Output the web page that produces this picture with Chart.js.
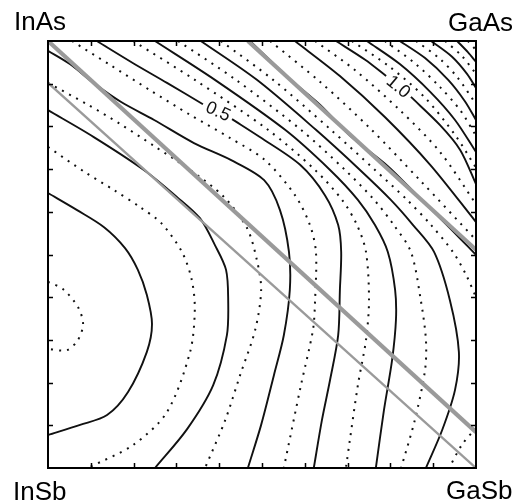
<!DOCTYPE html>
<html>
<head>
<meta charset="utf-8">
<script src="https://cdn.jsdelivr.net/npm/chart.js@4/dist/chart.umd.min.js"></script>
<style>
  html, body { margin: 0; padding: 0; background: #fff; }
  #wrap { width: 522px; height: 504px; position: relative; }
</style>
</head>
<body>
<div id="wrap"><canvas id="c" width="522" height="504"></canvas></div>
<script>
// Composition square: x = Ga fraction (In -> Ga), y = As fraction (Sb -> As)
const cornerNames = ['InAs', 'GaAs', 'InSb', 'GaSb'];
const tickValues = [0.1, 0.2, 0.3, 0.4, 0.5, 0.6, 0.7, 0.8, 0.9];

// Contour paths, [x, y] pairs, one array per level (split where a label sits)
const c015 = [[0,.436],[.035,.419],[.070,.377],[.082,.337],[.070,.300],[.044,.276],[0,.279]];
const c020 = [[0,.644],[.068,.604],[.131,.564],[.180,.515],[.210,.464],[.231,.405],[.243,.337],[.231,.272],[.187,.178],[.138,.124],[.075,.101],[0,.077]];
const c025 = [[0,.752],[.086,.693],[.154,.651],[.215,.611],[.264,.574],[.313,.506],[.336,.440],[.343,.370],[.332,.272],[.278,.131],[.199,.054],[.093,0]];
const c030 = [[0,.838],[.107,.775],[.224,.698],[.301,.635],[.355,.585],[.390,.522],[.416,.464],[.421,.393],[.418,.311],[.386,.194],[.325,.091],[.250,0]];
const c035 = [[0,.902],[.091,.852],[.168,.806],[.248,.754],[.332,.698],[.411,.635],[.465,.562],[.488,.487],[.498,.417],[.484,.323],[.449,.218],[.414,.112],[.367,0]];
const c040 = [[0,.977],[.051,.946],[.110,.899],[.171,.857],[.248,.815],[.341,.761],[.428,.721],[.505,.674],[.542,.604],[.563,.506],[.565,.417],[.551,.311],[.528,.218],[.498,.101],[.467,0]];
const c045 = [[.056,1],[.145,.944],[.238,.885],[.332,.827],[.425,.773],[.507,.721],[.577,.639],[.612,.569],[.626,.506],[.624,.393],[.619,.323],[.591,.194],[.551,0]];
const c050a = [[.114,1],[.199,.948],[.278,.902],[.362,.852]];
const c050b = [[.430,.817],[.495,.775],[.589,.710],[.647,.639],[.678,.569],[.685,.506],[.682,.417],[.678,.311],[.659,.206],[.640,.112],[.621,0]];
const c055 = [[.199,1],[.343,.909],[.514,.792],[.624,.698],[.687,.628],[.722,.569],[.743,.506],[.750,.393],[.743,.300],[.724,.194],[.696,0]];
const c060 = [[.250,1],[.390,.909],[.554,.792],[.659,.698],[.724,.628],[.764,.569],[.794,.506],[.811,.417],[.813,.347],[.804,.253],[.785,.136],[.766,0]];
const c065 = [[.304,1],[.439,.909],[.591,.792],[.694,.698],[.762,.628],[.808,.569],[.848,.506],[.871,.393],[.883,.300],[.881,.230],[.857,.112],[.825,0]];
const c070 = [[.357,1],[.488,.909],[.626,.792],[.729,.698],[.801,.628],[.853,.569],[.902,.506],[.939,.393],[.960,.272],[.951,.183],[.921,.089],[.883,0]];
const c075a = [[.404,1],[.526,.909],[.661,.792],[.764,.698],[.839,.628],[.895,.569],[.946,.506],[.977,.452],[1,.400]];
const c075b = [[1,.094],[.967,.054],[.937,0]];
const c080 = [[.472,1],[.565,.911],[.636,.850],[.706,.778],[.794,.707],[.869,.632],[.939,.562],[1,.499]];
const c085 = [[.519,1],[.636,.904],[.752,.796],[.869,.674],[1,.534]];
const c090 = [[.577,1],[.682,.918],[.787,.822],[.893,.710],[1,.576]];
const c095 = [[.624,1],[.717,.932],[.822,.838],[.916,.740],[1,.618]];
const c100a = [[.673,1],[.741,.956],[.790,.918]];
const c100b = [[.848,.869],[.916,.803],[.963,.745],[1,.665]];
const c105 = [[.710,1],[.799,.939],[.881,.867],[.951,.780],[1,.703]];
const c110 = [[.745,1],[.822,.946],[.893,.881],[.951,.815],[1,.740]];
const c115 = [[.787,1],[.857,.948],[.916,.892],[.963,.838],[1,.778]];
const c120 = [[.822,1],[.881,.960],[.935,.909],[.974,.859],[1,.815]];
const c125 = [[.860,1],[.916,.958],[.958,.913],[1,.852]];
const c130 = [[.895,1],[.944,.963],[.979,.923],[1,.890]];
const c135 = [[.928,1],[.967,.965],[1,.923]];
const c140 = [[.956,1],[.981,.974],[1,.951]];
const c145 = [[.981,1],[1,.979]];

// Straight reference lines across the square
const lineThickA = [[0,1],[1,.084]];
const lineThin = [[0,.902],[1,0]];
const lineThickB = [[.467,1],[1,.511]];

// Level table built from the paths above
const contours = [
  {level: 0.15, paths: [c015]}, {level: 0.20, paths: [c020]}, {level: 0.25, paths: [c025]},
  {level: 0.30, paths: [c030]}, {level: 0.35, paths: [c035]}, {level: 0.40, paths: [c040]},
  {level: 0.45, paths: [c045]}, {level: 0.50, paths: [c050a, c050b]}, {level: 0.55, paths: [c055]},
  {level: 0.60, paths: [c060]}, {level: 0.65, paths: [c065]}, {level: 0.70, paths: [c070]},
  {level: 0.75, paths: [c075a, c075b]}, {level: 0.80, paths: [c080]}, {level: 0.85, paths: [c085]},
  {level: 0.90, paths: [c090]}, {level: 0.95, paths: [c095]}, {level: 1.00, paths: [c100a, c100b]},
  {level: 1.05, paths: [c105]}, {level: 1.10, paths: [c110]}, {level: 1.15, paths: [c115]},
  {level: 1.20, paths: [c120]}, {level: 1.25, paths: [c125]}, {level: 1.30, paths: [c130]},
  {level: 1.35, paths: [c135]}, {level: 1.40, paths: [c140]}, {level: 1.45, paths: [c145]}
];

// Inline level labels: position on the curve and text angle
const labelled = [
  {level: 0.50, at: [.397, .834], angle: 24},
  {level: 1.00, at: [.818, .892], angle: 40}
];

const toPts = p => p.map(([x, y]) => ({x, y}));

const datasets = [];
// reference lines first so they draw on top
[[lineThickA, 4.2], [lineThickB, 4.2], [lineThin, 2.4]].forEach(([p, w]) => {
  datasets.push({data: toPts(p), borderColor: '#9a9a9a', borderWidth: w,
    showLine: true, pointRadius: 0, tension: 0, borderCapStyle: 'butt'});
});
contours.forEach(c => {
  const major = Math.abs(c.level * 10 - Math.round(c.level * 10)) < 1e-6;
  c.paths.forEach(p => {
    datasets.push({
      data: toPts(p),
      borderColor: '#111',
      borderWidth: major ? 1.9 : 2,
      borderDash: major ? [] : [2, 6],
      borderCapStyle: 'butt',
      showLine: true, pointRadius: 0, tension: 0.3
    });
  });
});

const frame = {
  id: 'frame',
  afterDatasetsDraw(chart) {
    const {ctx, chartArea: a, scales: {x, y}} = chart;
    ctx.save();
    // level labels
    ctx.fillStyle = '#111';
    ctx.font = '18px "Liberation Sans", Arial, sans-serif';
    ctx.textAlign = 'center';
    ctx.textBaseline = 'middle';
    labelled.forEach(l => {
      ctx.save();
      ctx.translate(x.getPixelForValue(l.at[0]), y.getPixelForValue(l.at[1]));
      ctx.rotate(l.angle * Math.PI / 180);
      ctx.fillText(l.level.toFixed(1), 0, 0);
      ctx.restore();
    });
    // inward ticks on all four sides
    ctx.strokeStyle = '#000';
    ctx.lineWidth = 1.5;
    const len = 5;
    ctx.beginPath();
    tickValues.forEach(v => {
      const px = Math.round(x.getPixelForValue(v)) + 0.5;
      const py = Math.round(y.getPixelForValue(v)) + 0.5;
      ctx.moveTo(px, a.bottom); ctx.lineTo(px, a.bottom - len);
      ctx.moveTo(px, a.top); ctx.lineTo(px, a.top + len);
      ctx.moveTo(a.left, py); ctx.lineTo(a.left + len, py);
      ctx.moveTo(a.right, py); ctx.lineTo(a.right - len, py);
    });
    ctx.stroke();
    // frame
    ctx.lineWidth = 2;
    ctx.strokeRect(a.left, a.top, a.right - a.left, a.bottom - a.top);
    // corner compounds
    ctx.fillStyle = '#000';
    ctx.font = '26px "Liberation Sans", Arial, sans-serif';
    ctx.textAlign = 'left';
    ctx.textBaseline = 'alphabetic';
    ctx.fillText(cornerNames[0], a.left - 34, a.top - 11);
    ctx.fillText(cornerNames[1], a.right - 28, a.top - 10);
    ctx.fillText(cornerNames[2], a.left - 35, a.bottom + 32);
    ctx.fillText(cornerNames[3], a.right - 30, a.bottom + 31);
    ctx.restore();
  }
};

new Chart(document.getElementById('c'), {
  type: 'scatter',
  data: {datasets},
  options: {
    responsive: false,
    animation: false,
    devicePixelRatio: 1,
    layout: {padding: {left: 48, top: 41, right: 46, bottom: 36}},
    plugins: {legend: {display: false}, tooltip: {enabled: false}},
    scales: {
      x: {type: 'linear', min: 0, max: 1, display: false},
      y: {type: 'linear', min: 0, max: 1, display: false}
    }
  },
  plugins: [frame]
});
</script>
</body>
</html>
